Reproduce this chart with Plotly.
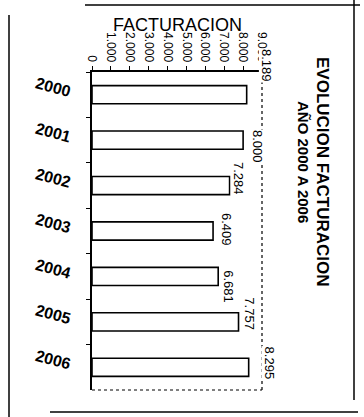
import plotly.graph_objects as go

# Annual billing, 2000-2006
years = ["2000", "2001", "2002", "2003", "2004", "2005", "2006"]
facturacion = [8189, 8000, 7284, 6409, 6681, 7757, 8295]

# Value-axis ticks
tick_values = [0, 1000, 2000, 3000, 4000, 5000, 6000, 7000, 8000, 9000]
tick_labels = ["0", "1.000", "2.000", "3.000", "4.000", "5.000",
               "6.000", "7.000", "8.000", "9.000"]

title_line1 = "EVOLUCION FACTURACION"
title_line2 = "AÑO 2000 A 2006"
axis_title = "FACTURACION"

W, H = 364, 417
L, R, T, B = 92, 102, 72, 27
FONT = "Liberation Sans, Arial, sans-serif"


def px(x):
    """Pixel column -> paper x."""
    return (x - L) / (W - L - R)


def py(y):
    """Pixel row (from top) -> paper y."""
    return 1 - (y - T) / (H - T - B)


def fmt(v):
    return f"{v:,}".replace(",", ".")


fig = go.Figure()
fig.add_trace(go.Bar(
    x=facturacion,
    y=years,
    orientation="h",
    marker=dict(color="white", line=dict(color="black", width=1.6)),
    hoverinfo="x+y",
))

# value labels, rotated, just beyond each bar end (category axis -> use index)
label_nudge = [(20, 29), (15, -6), (9, 7), (14, 2), (10, -10), (11, 8), (21, 4)]
annotations = []
for i, (v, (dx, dy)) in enumerate(zip(facturacion, label_nudge)):
    annotations.append(dict(
        x=v, y=i, xref="x", yref="y", text=fmt(v), showarrow=False,
        textangle=90, xanchor="center", yanchor="middle",
        xshift=dx, yshift=dy, bgcolor="white", borderpad=0,
        font=dict(family=FONT, size=13, color="black"),
    ))

annotations += [
    dict(x=px(322), y=py(172), xref="paper", yref="paper", text=title_line1,
         showarrow=False, textangle=90, xanchor="center", yanchor="middle",
         font=dict(family=FONT, size=17, color="black", weight="bold")),
    dict(x=px(304), y=py(162), xref="paper", yref="paper", text=title_line2,
         showarrow=False, textangle=90, xanchor="center", yanchor="middle",
         font=dict(family=FONT, size=15, color="black", weight="bold")),
    dict(x=px(177), y=py(25), xref="paper", yref="paper", text=axis_title,
         showarrow=False, xanchor="center", yanchor="middle",
         font=dict(family=FONT, size=18, color="black")),
]

line = dict(color="black", width=1.5)
dotted = dict(color="black", width=1.2, dash="dot")
shapes = [
    # dotted right and bottom edges of the plotting area
    dict(type="line", xref="paper", yref="paper", x0=1, x1=1, y0=0, y1=1, line=dotted),
    dict(type="line", xref="paper", yref="paper", x0=0, x1=1, y0=0, y1=0, line=dotted),
    # outer frame
    dict(type="line", xref="paper", yref="paper", x0=px(9), x1=px(9), y0=py(15), y1=py(417), line=line),
    dict(type="line", xref="paper", yref="paper", x0=px(85), x1=px(360), y0=py(5), y1=py(5), line=line),
    dict(type="line", xref="paper", yref="paper", x0=px(354), x1=px(354), y0=py(0), y1=py(400), line=line),
    dict(type="line", xref="paper", yref="paper", x0=px(50), x1=px(358), y0=py(412), y1=py(412), line=line),
]

fig.update_layout(
    width=W, height=H,
    margin=dict(l=L, r=R, t=T, b=B, pad=0),
    paper_bgcolor="white", plot_bgcolor="white",
    showlegend=False,
    bargap=0.6,
    font=dict(family=FONT, color="black"),
    annotations=annotations,
    shapes=shapes,
    xaxis=dict(
        side="top", range=[0, 9000], tickmode="array",
        tickvals=tick_values, ticktext=tick_labels, tickangle=90,
        ticks="outside", ticklen=4, tickcolor="black",
        showline=True, linecolor="black", linewidth=1.5,
        showgrid=False, zeroline=False,
        tickfont=dict(family=FONT, size=12, color="black"),
    ),
    yaxis=dict(
        type="category", categoryorder="array", categoryarray=years,
        range=[len(years) - 0.5, -0.5],
        ticks="outside", ticklen=4, tickcolor="black", tickson="boundaries",
        showline=True, linecolor="black", linewidth=1.8,
        showgrid=False, zeroline=False, tickangle=15,
        ticklabelstandoff=16, ticklabelshift=3,
        tickfont=dict(family=FONT, size=16, color="black", weight="bold"),
    ),
)

fig.write_html("out.html")
